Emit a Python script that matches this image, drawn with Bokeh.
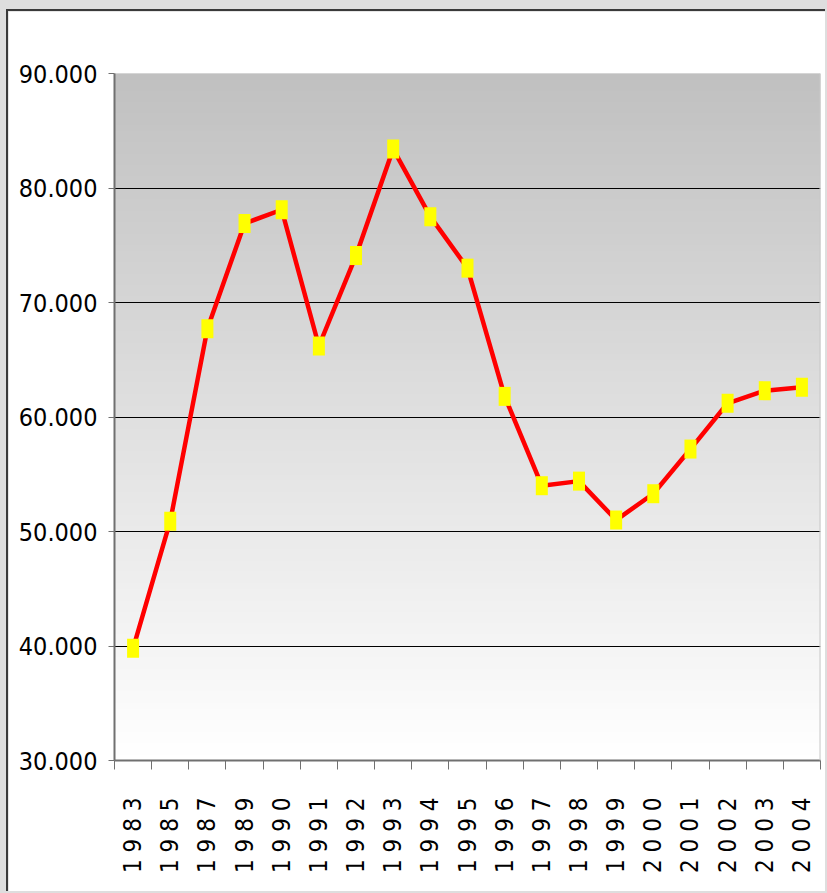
import numpy as np
from bokeh.plotting import figure
from bokeh.models import Range1d, FixedTicker, Span
from bokeh.embed import file_html
from bokeh.resources import INLINE

# ---- data ----
years = ["1983", "1985", "1987", "1989", "1990", "1991", "1992", "1993", "1994", "1995",
         "1996", "1997", "1998", "1999", "2000", "2001", "2002", "2003", "2004"]
values = [39.8, 50.9, 67.7, 76.9, 78.1, 66.2, 74.1, 83.4, 77.5, 73.0,
          61.8, 54.0, 54.4, 51.0, 53.3, 57.2, 61.2, 62.3, 62.6]
y_ticks = [30, 40, 50, 60, 70, 80, 90]
y_tick_labels = ["30.000", "40.000", "50.000", "60.000", "70.000", "80.000", "90.000"]

AXIS_GRAY = "#707070"
FONT = "DejaVu Sans Condensed"

n = len(years)
xs = [i + 0.5 for i in range(n)]

p = figure(width=819, height=882,
           x_range=Range1d(0, n), y_range=Range1d(y_ticks[0], y_ticks[-1]),
           output_backend="svg", toolbar_location=None,
           min_border_left=106, min_border_top=62, min_border_right=7, min_border_bottom=133,
           border_fill_color="white", background_fill_color="white",
           outline_line_color=None)
p.styles = {"border-left": "2px solid #3a3a3a", "border-top": "2px solid #3a3a3a",
            "margin-left": "6px", "margin-top": "9px"}

# gradient background of plot area (decoration)
nb = 120
edges = np.linspace(y_ticks[0], y_ticks[-1], nb + 1)
step = edges[1] - edges[0]
cols = []
for i in range(nb):
    t = (i + 0.5) / nb
    g = int(round(255 - t * (255 - 192)))
    cols.append("#%02x%02x%02x" % (g, g, g))
bg = p.quad(left=0, right=n, bottom=edges[:-1], top=edges[1:] + step, fill_color=cols, line_color=None)
bg.level = "image"

# grid
p.xgrid.visible = False
p.ygrid.ticker = FixedTicker(ticks=y_ticks[1:-1])
p.ygrid.grid_line_color = "black"
p.ygrid.grid_line_width = 1

p.add_layout(Span(location=n, dimension="height", line_color="#c8c8c8", line_width=2))

# series
p.line(xs, values, line_color="#ff0000", line_width=4.5)
p.rect(x=xs, y=values, width=12, height=19, width_units="screen", height_units="screen",
       fill_color="#ffff00", line_color=None)

# x axis
p.xaxis.ticker = FixedTicker(ticks=xs, minor_ticks=list(range(n + 1)))
p.xaxis.major_label_overrides = {x: " ".join(y) for x, y in zip(xs, years)}
p.xaxis.major_label_orientation = np.pi / 2
p.xaxis.major_tick_out = 0
p.xaxis.major_tick_in = 0
p.xaxis.minor_tick_out = 9
p.xaxis.minor_tick_in = 0
p.xaxis.minor_tick_line_color = AXIS_GRAY
p.xaxis.minor_tick_line_width = 1
p.xaxis.axis_line_color = AXIS_GRAY
p.xaxis.axis_line_width = 2
p.xaxis.major_label_standoff = 28
p.xaxis.major_label_text_font = FONT
p.xaxis.major_label_text_font_size = "24px"
p.xaxis.major_label_text_color = "black"

# y axis
p.yaxis.ticker = FixedTicker(ticks=y_ticks, minor_ticks=[])
p.yaxis.major_label_overrides = {t: l for t, l in zip(y_ticks, y_tick_labels)}
p.yaxis.major_tick_out = 6
p.yaxis.major_tick_in = 0
p.yaxis.major_tick_line_color = AXIS_GRAY
p.yaxis.axis_line_color = AXIS_GRAY
p.yaxis.axis_line_width = 2
p.yaxis.major_label_standoff = 11
p.yaxis.major_label_text_font = FONT
p.yaxis.major_label_text_font_size = "25px"
p.yaxis.major_label_text_color = "black"

html = file_html(p, INLINE)
html = html.replace("</head>", "<style>html, body { background-color: #dedede; }</style>\n</head>", 1)
open("out.html", "w").write(html)
